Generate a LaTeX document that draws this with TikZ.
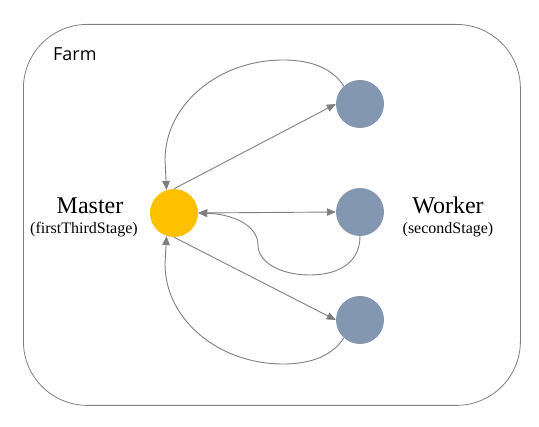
\documentclass[tikz,border=0pt]{standalone}
\usepackage{fontspec}
\newfontfamily\namefont{Liberation Serif}
\newfontfamily\farmfont{Open Sans}
\usetikzlibrary{arrows.meta}
\definecolor{mgold}{HTML}{FFC000}
\definecolor{wblue}{HTML}{8497B0}
\definecolor{lgray}{HTML}{7F7F7F}
\tikzset{
  master/.style={circle, fill=mgold, minimum size=48pt, inner sep=0pt},
  worker/.style={circle, fill=wblue, minimum size=48pt, inner sep=0pt},
  conn/.style={draw=lgray, line width=0.9pt, -{Triangle[length=9pt,width=7.5pt]}},
  biconn/.style={draw=lgray, line width=0.9pt, {Triangle[length=9pt,width=7.5pt]}-{Triangle[length=9pt,width=7.5pt]}},
  bigname/.style={font=\namefont\fontsize{24}{28}\selectfont, anchor=base, inner sep=0pt},
  subname/.style={font=\namefont\fontsize{16}{19}\selectfont, anchor=base, inner sep=0pt},
}
\begin{document}
\begin{tikzpicture}[x=1pt,y=-1pt]
\useasboundingbox (0,0) rectangle (539,427);
\node[draw=lgray, line width=0.8pt, rounded corners=64pt, minimum width=497pt, minimum height=381pt, inner sep=0pt, anchor=north west] (frame) at (23,24) {};
\node[font=\farmfont\fontsize{18}{22}\selectfont, anchor=base west, inner sep=0pt] (farm) at (53,61) {Farm};

\node[master] (m) at (174,213) {};
\node[worker] (w1) at (360,104) {};
\node[worker] (w2) at (360,212) {};
\node[worker] (w3) at (360,320) {};

\node[bigname] (mt) at (90,214) {Master};
\node[subname] (ms) at (84,234) {(firstThirdStage)};
\node[bigname] (wt) at (448,214) {Worker};
\node[subname] (ws) at (448,234) {(secondStage)};

\draw[conn] (m.north) -- (w1.west);
\draw[conn] (m.south) -- (w3.west);
\draw[biconn] (m.east) -- (w2.west);

\draw[conn] (w1.132) .. controls (330,65) and (305,60) .. (283,60)
  .. controls (218,60) and (165,105) .. (165,160) -- (m.108);
\draw[conn] (w3.228) .. controls (330,359) and (305,364) .. (283,364)
  .. controls (218,364) and (165,319) .. (165,264) -- (m.252);
\draw[conn] (w2.south) .. controls (360,265) and (335,275) .. (310,275)
  .. controls (280,275) and (258,262) .. (258,245)
  .. controls (258,225) and (232,214) .. (m.east);
\end{tikzpicture}
\end{document}
